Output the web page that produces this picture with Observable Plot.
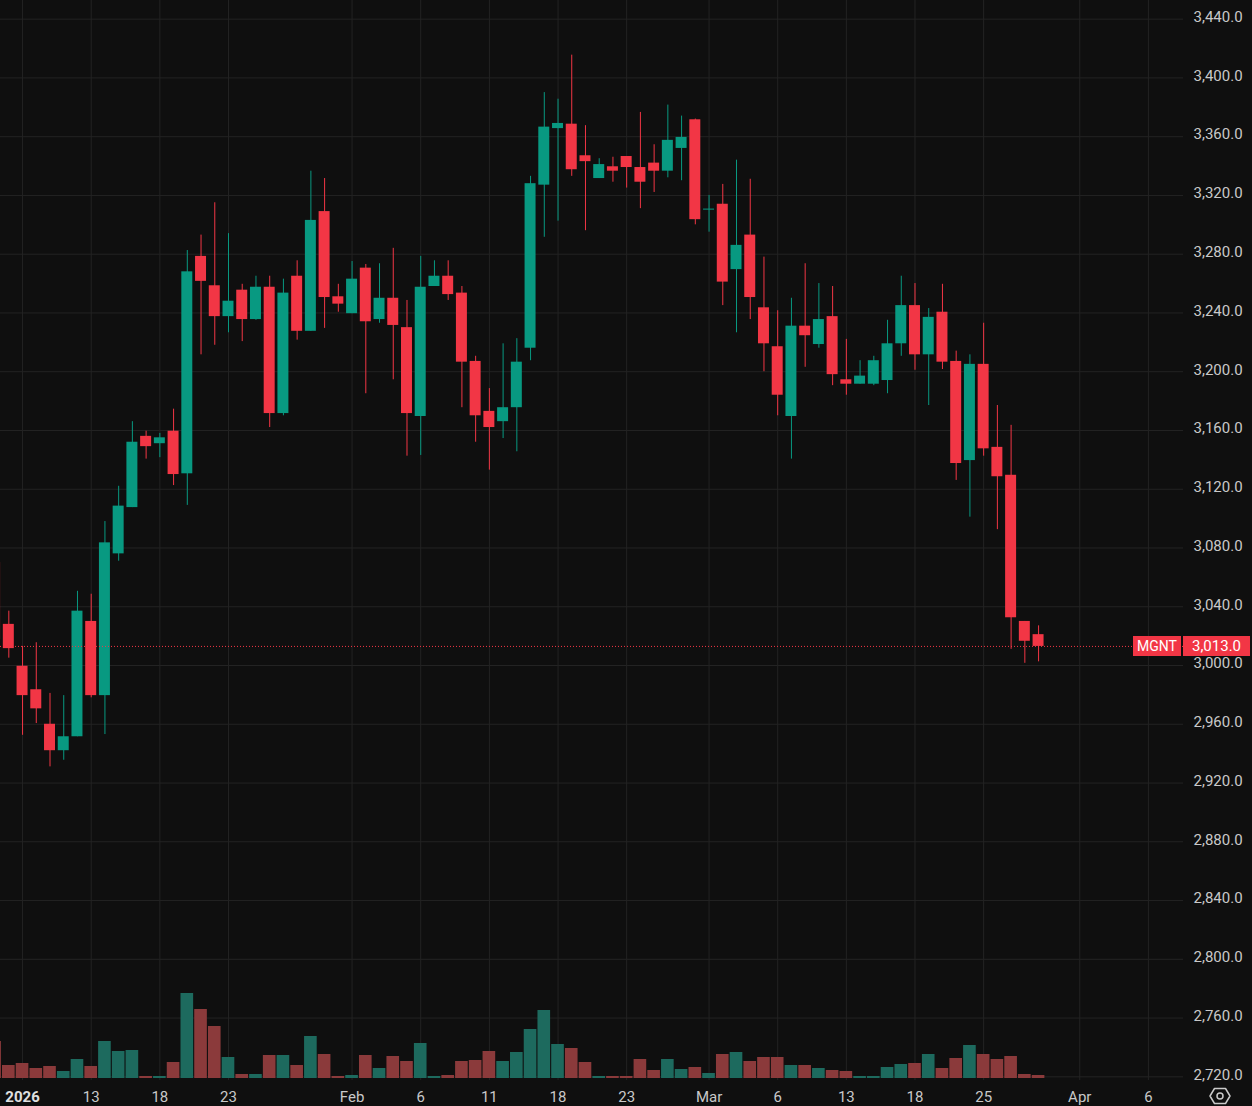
<!DOCTYPE html>
<html>
<head>
<meta charset="utf-8">
<script src="https://cdn.jsdelivr.net/npm/d3@7"></script>
<script src="https://cdn.jsdelivr.net/npm/@observablehq/plot@0.6"></script>
<style>
html,body{margin:0;padding:0;background:#0f0f0f;}
#wrap{position:relative;width:1252px;height:1106px;overflow:hidden;background:#0f0f0f;font-family:Roboto,"Noto Sans",sans-serif;}
#wrap > svg, #wrap > div{position:absolute;left:0;top:0;}
.tag{position:absolute;height:20px;line-height:20px;background:#f23645;color:#fff;text-align:center;white-space:nowrap;}
</style>
</head>
<body>
<div id="wrap"></div>
<script>
// ---------------- data ----------------
const symbol = "MGNT";
const firstIndex = -7; // bar index of first visible bar (index 0 = 13 Jan)
const dates = ["2025-12-29","2025-12-30","2026-01-08","2026-01-09","2026-01-10","2026-01-11","2026-01-12","2026-01-13","2026-01-14","2026-01-15","2026-01-16","2026-01-17","2026-01-18","2026-01-19","2026-01-20","2026-01-21","2026-01-22","2026-01-23","2026-01-24","2026-01-25","2026-01-26","2026-01-27","2026-01-28","2026-01-29","2026-01-30","2026-01-31","2026-02-01","2026-02-02","2026-02-03","2026-02-04","2026-02-05","2026-02-06","2026-02-07","2026-02-08","2026-02-09","2026-02-10","2026-02-11","2026-02-12","2026-02-13","2026-02-16","2026-02-17","2026-02-18","2026-02-19","2026-02-20","2026-02-21","2026-02-22","2026-02-23","2026-02-24","2026-02-25","2026-02-26","2026-02-27","2026-02-28","2026-03-01","2026-03-02","2026-03-03","2026-03-04","2026-03-05","2026-03-06","2026-03-09","2026-03-10","2026-03-11","2026-03-12","2026-03-13","2026-03-14","2026-03-15","2026-03-16","2026-03-17","2026-03-18","2026-03-19","2026-03-20","2026-03-23","2026-03-24","2026-03-25","2026-03-26","2026-03-27","2026-03-28","2026-03-29"];
const open  = [3070,3028,2999.5,2983.5,2960,2942,2951.5,3030,2979.5,3076,3107.5,3156,3151,3159.5,3130.5,3278.5,3258.5,3237.5,3255.5,3235.5,3257.5,3171.5,3265,3227.5,3309,3251,3239.5,3270.5,3235.5,3250,3230,3169.5,3258,3265,3253.5,3207,3173,3166,3175.5,3216,3327,3365.5,3368.5,3347,3331.5,3339.5,3346.5,3339,3342,3336.5,3352,3371.5,3310,3314,3269.5,3293,3243.5,3217,3169.5,3231,3218.5,3237.5,3194.5,3191.5,3191.5,3194,3219,3245,3211.5,3240.5,3207,3139.5,3205,3148.5,3129.5,3030,3021];
const high  = [3076,3037,3013,3015.5,2981,2979.5,3050.5,3048.5,3098,3122,3166,3159.5,3158,3174.5,3282.5,3293,3315,3294,3259.5,3265,3265,3263,3275.5,3336.5,3331.5,3259.5,3275,3273,3273.5,3284,3248.5,3278.5,3275.5,3275.5,3258,3210.5,3188.5,3219,3222.5,3333,3390,3385.5,3415.5,3367.5,3345,3346,3346.5,3376.5,3354.5,3381.5,3374,3372,3320,3327.5,3344,3331,3278,3241.5,3250,3273.5,3260,3258,3222,3207.5,3210.5,3235,3265,3260,3243,3259.5,3214,3211.5,3233,3177,3163.5,3030,3027];
const low   = [3012,3005,2952.5,2960.5,2931,2935.5,2951.5,2978,2953,3071,3107.5,3140.5,3141.5,3122.5,3109,3211.5,3218,3226.5,3220.5,3235,3162,3170,3221.5,3227.5,3229.5,3240.5,3239.5,3185,3233,3194.5,3142.5,3143,3258,3248.5,3175.5,3152,3133,3154.5,3145.5,3207.5,3291.5,3302.5,3333,3296,3331.5,3329,3325,3311,3322,3332,3330,3300,3295,3245,3226.5,3235.5,3200,3170,3140.5,3203,3216,3190.5,3184,3191.5,3190.5,3185,3210.5,3201,3177,3201.5,3126,3101,3142.5,3092.5,3011,3001.5,3002.5];
const close = [3017.5,3011.5,2979.5,2970.5,2942,2951.5,3037,2979.5,3083.5,3108.5,3152,3149,3155,3130,3268,3261.5,3237.5,3248,3235.5,3257.5,3171.5,3253.5,3227.5,3303,3250.5,3246,3263,3234,3250,3231.5,3171.5,3257.5,3265,3252.5,3206.5,3170,3162,3175.5,3206.5,3328,3366.5,3369,3337.5,3343,3341,3336.5,3339,3329,3336.5,3357.5,3359.5,3303.5,3310.7,3261,3286,3250.5,3219,3184,3231,3224.5,3235.5,3198,3191.5,3197,3207.5,3219,3245,3211.5,3237,3206.5,3137.5,3205,3147.5,3128.5,3032.5,3016.5,3013];
const volume = [370,130,150,100,120,70,190,120,370,270,280,20,20,160,850,690,520,210,40,40,230,230,130,420,240,20,30,230,100,220,170,350,20,30,170,180,270,170,260,490,680,340,300,160,20,20,20,190,80,190,90,110,50,240,260,170,210,210,130,130,100,80,70,20,20,110,140,150,240,100,200,330,240,190,220,40,30];
const tickIndex  = [-5,0,5,10,19,24,29,34,39,45,50,55,60,65,72,77];
const tickLabels = ["2026","13","18","23","Feb","6","11","18","23","Mar","6","13","18","25","Apr","6"];
const priceTicks = d3.range(2720, 3441, 40);

// ---------------- build ----------------
const bars = dates.map((date, k) => ({
  i: firstIndex + k, date,
  open: open[k], high: high[k], low: low[k], close: close[k], volume: volume[k]
}));
const last = bars[bars.length - 1];

const W = 1252, H = 1106, mBottom = 26, mRight = 69;
const xDomain = [-6.606, 79.556];
const up = "#089981", down = "#f23645";
const volUp = "#1d6a5e", volDown = "#8b3a3b";
const grid = "#232323";
const textColor = "#c9c9c9";
const font = "Roboto, 'Noto Sans', sans-serif";
const labelOf = new Map(tickIndex.map((t, k) => [t, tickLabels[k]]));

const pricePlot = Plot.plot({
  width: W, height: H,
  marginTop: 0, marginBottom: mBottom, marginLeft: 0, marginRight: mRight,
  style: {background: "transparent", color: textColor, fontFamily: font, fontSize: "15px"},
  x: {type: "linear", domain: xDomain, axis: null},
  y: {domain: [2717.5, 3452.7], axis: null},
  color: {type: "identity"},
  marks: [
    Plot.ruleY(priceTicks, {stroke: grid, strokeWidth: 1}),
    Plot.ruleX(tickIndex, {stroke: grid, strokeWidth: 1}),
    Plot.ruleX(bars, {x: "i", y1: "low", y2: "high", stroke: d => d.close >= d.open ? up : down, strokeWidth: 1}),
    Plot.rectY(bars, {x1: d => d.i - 0.4, x2: d => d.i + 0.4, y1: "open", y2: "close", fill: d => d.close >= d.open ? up : down}),
    Plot.ruleY([last.close], {stroke: down, strokeWidth: 1, strokeDasharray: "1,2"}),
    Plot.axisY(priceTicks, {anchor: "right", tickSize: 0, tickPadding: 10, label: null, dy: -2,
      tickFormat: d => d3.format(",.1f")(d), fill: textColor, fontSize: 15})
  ]
});

const volPlot = Plot.plot({
  width: W, height: H,
  marginTop: 993, marginBottom: 28, marginLeft: 0, marginRight: mRight,
  style: {background: "transparent", color: textColor, fontFamily: font, fontSize: "15px"},
  x: {type: "linear", domain: xDomain, axis: null},
  y: {domain: [0, 850], axis: null},
  color: {type: "identity"},
  marks: [
    Plot.rectY(bars, {x1: d => d.i - 0.46, x2: d => d.i + 0.46, y1: 0, y2: "volume", fill: d => d.close >= d.open ? volUp : volDown}),
    Plot.axisX(tickIndex.slice(1), {anchor: "bottom", tickSize: 0, tickPadding: 13, label: null,
      tickFormat: d => labelOf.get(d), fill: textColor, fontSize: 15}),
    Plot.axisX(tickIndex.slice(0, 1), {anchor: "bottom", tickSize: 0, tickPadding: 13, label: null,
      tickFormat: d => labelOf.get(d), fill: "#e0e0e0", fontSize: 15, fontWeight: "bold"})
  ]
});

const wrap = document.getElementById("wrap");
wrap.appendChild(pricePlot);
wrap.appendChild(volPlot);

// last-price tags positioned through the price scale
const yLast = pricePlot.scale("y").apply(last.close);
const xRight = W - mRight;
const tag1 = document.createElement("div");
tag1.className = "tag";
tag1.style.cssText = `left:${xRight - 50}px;top:${yLast - 10}px;width:48px;font-size:14px;`;
tag1.textContent = symbol;
const tag2 = document.createElement("div");
tag2.className = "tag";
tag2.style.cssText = `left:${xRight}px;top:${yLast - 10}px;width:67px;font-size:15px;`;
tag2.textContent = d3.format(",.1f")(last.close);
wrap.appendChild(tag1);
wrap.appendChild(tag2);

// settings icon
const ns = "http://www.w3.org/2000/svg";
const icon = document.createElementNS(ns, "svg");
icon.setAttribute("width", 24); icon.setAttribute("height", 20);
icon.style.cssText = "position:absolute;left:1208px;top:1086px;";
icon.innerHTML = '<polygon points="22,10 17.5,2.5 6.5,2.5 2,10 6.5,17.5 17.5,17.5" fill="none" stroke="#c9c9c9" stroke-width="1.5" stroke-linejoin="round"/><circle cx="12" cy="10" r="3" fill="none" stroke="#c9c9c9" stroke-width="1.5"/>';
wrap.appendChild(icon);
</script>
</body>
</html>
